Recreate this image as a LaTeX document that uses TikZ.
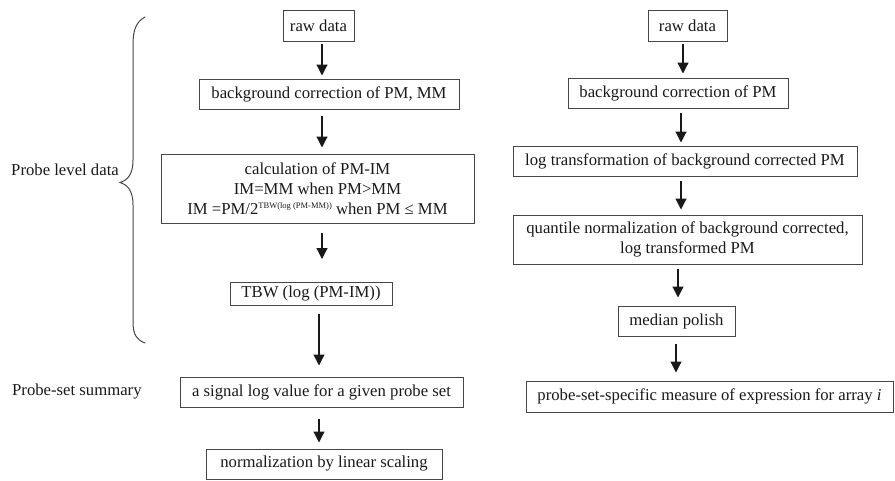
\documentclass[tikz,border=0pt]{standalone}
\usepackage{fontspec}
\setmainfont{Liberation Serif}
\usetikzlibrary{arrows.meta}
\definecolor{boxline}{RGB}{70,70,70}
\definecolor{ink}{RGB}{25,25,25}
\tikzset{
  box/.style={draw=boxline, line width=1pt, inner sep=0pt, align=center,
    text=ink, font=\fontsize{16.7}{20}\selectfont},
  arr/.style={draw=ink, line width=1.2pt, -{Triangle[length=11pt,width=11pt]}},
  lbl/.style={text=ink, font=\fontsize{16.7}{20}\selectfont, inner sep=0pt}
}
\begin{document}
\begin{tikzpicture}[x=1pt,y=-1pt]
\useasboundingbox (0,0) rectangle (895,480);
% left column
\node[box, minimum width=71, minimum height=31] (raw1) at (318.5,25.5) {raw data};
\node[box, minimum width=260, minimum height=30] (bg1) at (329,94) {background correction of PM, MM};
\node[box, minimum width=313, minimum height=69] (calc) at (317.5,188.5)
  {calculation of PM-IM\\IM=MM when PM>MM\\IM =PM/2\raisebox{6pt}{\fontsize{8.5}{9}\selectfont TBW(log (PM-MM))} when PM ≤ MM};
\node[box, minimum width=162, minimum height=23] (tbw) at (311,294) {TBW (log (PM-IM))};
\node[box, minimum width=283, minimum height=30] (sig) at (321.5,392) {a signal log value for a given probe set};
\node[box, minimum width=236, minimum height=30] (norm) at (324,464) {normalization by linear scaling};
% right column
\node[box, minimum width=79, minimum height=31] (raw2) at (687.5,25.5) {raw data};
\node[box, minimum width=220, minimum height=30] (bg2) at (678,93) {background correction of PM};
\node[box, minimum width=344, minimum height=30] (logt) at (685,161) {log transformation of background corrected PM};
\node[box, minimum width=349, minimum height=49] (quant) at (687.5,239.5) {quantile normalization of background corrected,\\log transformed PM};
\node[box, minimum width=117, minimum height=30] (med) at (676.5,321) {median polish};
\node[box, minimum width=367, minimum height=31] (pss) at (709.5,396.5) {probe-set-specific measure of expression for array \textit{i}};
% labels
\node[lbl, anchor=base east] (pld) at (119,175.5) {Probe level data};
\node[lbl, anchor=base west] (pss-lbl) at (12,395) {Probe-set summary};
% left arrows
\draw[arr, shorten <=2pt, shorten >=3pt] ([xshift=3.5]raw1.south) -- ([xshift=3.5]raw1.south |- bg1.north);
\draw[arr, shorten <=6pt, shorten >=6pt] ([xshift=-7]bg1.south) -- ([xshift=-7]bg1.south |- calc.north);
\draw[arr, shorten <=9pt, shorten >=23pt] ([xshift=4.5]calc.south) -- ([xshift=4.5]calc.south |- tbw.north);
\draw[arr, shorten <=8pt, shorten >=11pt] ([xshift=8]tbw.south) -- ([xshift=8]tbw.south |- sig.north);
\draw[arr, shorten <=11pt, shorten >=6pt] ([xshift=-2.5]sig.south) -- ([xshift=-2.5]sig.south |- norm.north);
% right arrows
\draw[arr, shorten <=2pt, shorten >=4pt] ([xshift=-4.5]raw2.south) -- ([xshift=-4.5]raw2.south |- bg2.north);
\draw[arr, shorten <=4pt, shorten >=3pt] ([xshift=3]bg2.south) -- ([xshift=3]bg2.south |- logt.north);
\draw[arr, shorten <=4pt, shorten >=5pt] ([xshift=-4]logt.south) -- ([xshift=-4]logt.south |- quant.north);
\draw[arr, shorten <=4pt, shorten >=8pt] ([xshift=-9.5]quant.south) -- ([xshift=-9.5]quant.south |- med.north);
\draw[arr, shorten <=7pt, shorten >=8pt] ([xshift=-0.5]med.south) -- ([xshift=-0.5]med.south |- pss.north);
% brace
\draw[boxline, line width=1pt, line cap=round]
  (145,17) .. controls (136,22) and (133,30) .. (133,45)
  -- (133,160) .. controls (133,174) and (128,180) .. (120,182.5)
  .. controls (128,185) and (133,191) .. (133,205)
  -- (133,322) .. controls (133,335) and (137,340) .. (145,343);
\end{tikzpicture}
\end{document}
